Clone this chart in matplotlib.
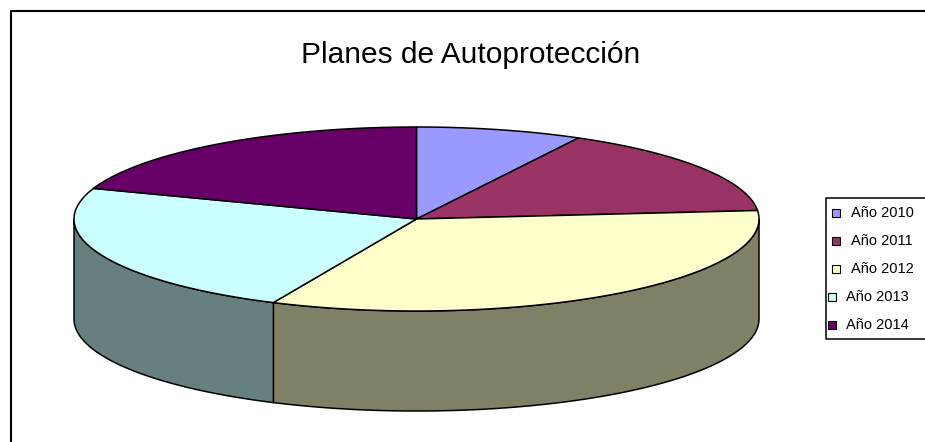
import numpy as np
import matplotlib
matplotlib.use("Agg")
import matplotlib.pyplot as plt
from matplotlib.patches import Polygon, Rectangle

plt.rcParams["font.family"] = ["Liberation Sans", "DejaVu Sans"]

title = "Planes de Autoprotección"
labels = ["Año 2010", "Año 2011", "Año 2012", "Año 2013", "Año 2014"]
values = [4, 8, 17, 12, 10]
colors = ["#9999FF", "#993366", "#FFFFCC", "#CCFFFF", "#660066"]
side_colors = ["#4C4C80", "#4C1933", "#808066", "#668080", "#330033"]

# pie geometry, in image pixels
cx, cy = 416.5, 219
rx, ry = 342.5, 92
depth = 100


def rim(a0, a1):
    # angles clockwise from the top of the pie
    t = np.radians(np.linspace(a0, a1, 200))
    return cx + rx * np.sin(t), cy - ry * np.cos(t)


fig = plt.figure(figsize=(9.25, 4.42), dpi=100)
ax = fig.add_axes([0, 0, 1, 1])
ax.set_xlim(0, 925)
ax.set_ylim(442, 0)
ax.axis("off")

# chart frame, open to the right and bottom of the image
ax.plot([10.5, 10.5, 925], [442, 10.5, 10.5], color="black", lw=1.5)

ax.text(471, 55, title, ha="center", va="center", fontsize=21.5)

edges = np.cumsum([0] + values) / sum(values) * 360

# outer wall, only the front half shows
for i in range(len(values)):
    a0, a1 = max(edges[i], 90), min(edges[i + 1], 270)
    if a0 >= a1:
        continue
    x, y = rim(a0, a1)
    px = np.r_[x, x[::-1]]
    py = np.r_[y, y[::-1] + depth]
    ax.add_patch(Polygon(np.c_[px, py], fc=side_colors[i], ec="black", lw=1.1))

# top face
for i in range(len(values)):
    x, y = rim(edges[i], edges[i + 1])
    px = np.r_[cx, x]
    py = np.r_[cy, y]
    ax.add_patch(Polygon(np.c_[px, py], fc=colors[i], ec="black", lw=1.1))

# legend box, open on the right like the frame
ax.plot([925, 825.5, 825.5, 925], [197.5, 197.5, 339, 339], color="black", lw=1.1)
legend_y = [213, 241, 269, 297, 325]
marker_x = [836, 836, 836, 832, 832]
text_x = [851, 851, 851, 846, 846]
for i, lab in enumerate(labels):
    ax.add_patch(Rectangle((marker_x[i] - 4, legend_y[i] - 4), 8, 8, fc=colors[i], ec="black", lw=0.8))
    ax.text(text_x[i], legend_y[i], lab, ha="left", va="center", fontsize=10.5)

fig.savefig("out.png", dpi=100)
